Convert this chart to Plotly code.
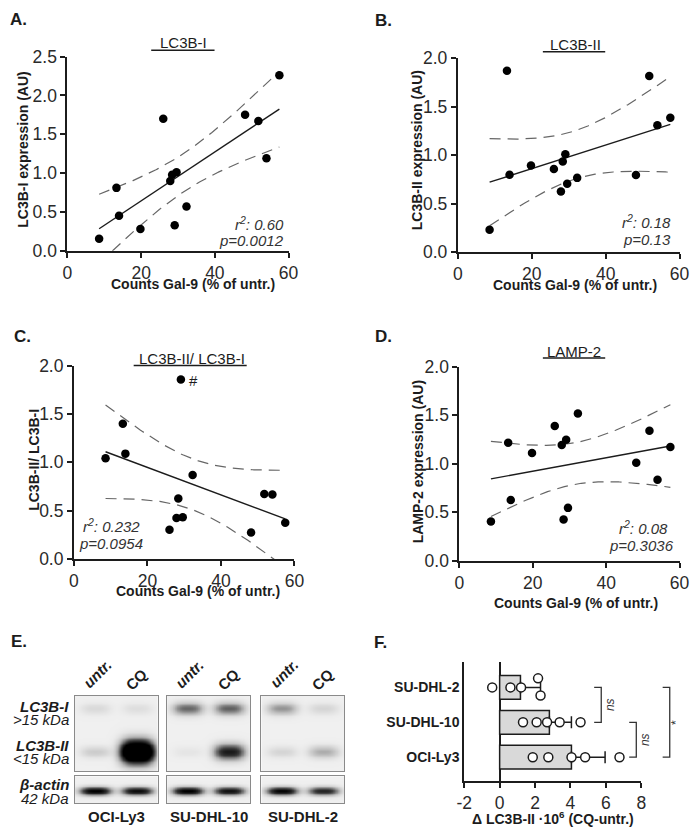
import numpy as np
import plotly.graph_objects as go

W, H = 699, 837
FONT = "Liberation Sans"
INK = "#1c1c1c"

# ---- panels A-D: Gal-9 counts (% of untreated) vs. protein level, one value per sample
gal9_counts = [8.6, 13.3, 14.0, 19.8, 26.0, 27.9, 28.4, 29.1, 29.6, 32.3, 48.2, 51.8, 54.0, 57.5]
lc3b_i_expr = [0.155, 0.81, 0.45, 0.28, 1.70, 0.90, 0.98, 0.33, 1.01, 0.57, 1.75, 1.67, 1.19, 2.26]
lc3b_ii_expr = [0.234, 1.87, 0.80, 0.894, 0.858, 0.626, 0.935, 1.01, 0.707, 0.767, 0.797, 1.816, 1.31, 1.387]
lc3b_ratio = [1.043, 1.40, 1.09, None, 0.304, 0.425, 0.627, 1.857, 0.431, 0.869, 0.274, 0.673, 0.667, 0.375]
lamp2_expr = [0.403, 1.217, 0.625, 1.112, 1.39, 1.193, 0.423, 1.247, 0.544, 1.519, 1.011, 1.341, 0.834, 1.172]

panel_titles = ["LC3B-I", "LC3B-II", "LC3B-II/ LC3B-I", "LAMP-2"]
y_titles = ["LC3B-I expression (AU)", "LC3B-II expression (AU)", "LC3B-II/ LC3B-I", "LAMP-2 expression (AU)"]
x_title = "Counts Gal-9 (% of untr.)"
r2_labels = ["0.60", "0.18", "0.232", "0.08"]
p_labels = ["0.0012", "0.13", "0.0954", "0.3036"]
y_max = [2.5, 2.0, 2.0, 2.0]
x_ticks = [0, 20, 40, 60]

# ---- panel E: western blot band intensities (darkness), lanes = [untr., CQ]
cell_lines = ["OCI-Ly3", "SU-DHL-10", "SU-DHL-2"]
lane_labels = ["untr.", "CQ"]
band_lc3b_i = [[0.10, 0.08], [0.50, 0.52], [0.36, 0.12]]
band_lc3b_ii = [[0.16, 1.80], [0.05, 0.80], [0.12, 0.28]]
band_actin = [[0.95, 0.88], [0.95, 0.85], [0.92, 0.75]]

# ---- panel F: delta LC3B-II x10^6 (CQ - untr.), bottom to top = cell_lines order
delta_lc3b_ii = [[1.87, 2.75, 4.06, 4.83, 6.77],
                 [1.32, 2.09, 2.68, 3.39, 4.57],
                 [-0.42, 0.61, 1.21, 2.17, 2.31]]
comparisons = [("SU-DHL-2", "SU-DHL-10", "ns"),
               ("SU-DHL-10", "OCI-Ly3", "ns"),
               ("SU-DHL-2", "OCI-Ly3", "*")]

# ---------------- geometry (pixels of the 699x837 page) and styling
point_dodge = [[0, 0, 0, 0, 0], [0, 0, 0, 0, 0], [0, 0, 0, 0.26, -0.23]]
bracket_x = [5.74, 7.72, 9.61]
bracket_text_shift = [9, 8, 7]

scatter_boxes = [(61, 288, 47.7, 246.7), (461.7, 689.3, 49.3, 248.3),
                 (67.7, 294, 364.3, 562.5), (463.3, 689.3, 365.7, 564)]
title_pos = [(180, 33.8), (582, 35.4), (189, 357), (581, 349.4)]
underline_pos = [(147, 212, 41.2), (549, 613, 42.8), (129, 245, 364.3), (549, 613, 356.5)]
stat_pos = [("right", 285, 285, 219, 236), ("right", 682.7, 682.7, 216.7, 235),
            ("center", 106, 106, 528.3, 546.7), ("right", 679.3, 686, 530, 548.3)]
ytitle_pos = [(15, 143.5), (420, 143.5), (27, 460.5), (421.7, 462.5)]
xtitle_pos = [(190, 281), (582, 282), (195, 595.5), (583, 608)]
letters = [("A.", 11, 10), ("B.", 385, 11), ("C.", 15, 334), ("D.", 385, 335),
           ("E.", 11, 647), ("F.", 382, 648)]

blot_x = [(68.3, 154), (163.3, 248.3), (260, 345)]
blot_upper_y = (702.3, 780)
blot_lower_y = (785, 812.3)

f_box = (468.3, 650, 668, 790)   # x=-2..8, categories
f_wide_right = 695.4              # x=10.5 on the same scale

T_CRIT = {12: 2.179, 11: 2.201}


def px_x(v):
    return v / W


def px_y(v):
    return 1 - v / H


def regression(x, y, n_pts=150):
    x = np.asarray(x, float)
    y = np.asarray(y, float)
    ok = ~np.isnan(y)
    x, y = x[ok], y[ok]
    n = len(x)
    slope, icpt = np.polyfit(x, y, 1)
    s = np.sqrt(np.sum((y - (icpt + slope * x)) ** 2) / (n - 2))
    xs = np.linspace(x.min(), x.max(), n_pts)
    fit = icpt + slope * xs
    half = T_CRIT[n - 2] * s * np.sqrt(1 / n + (xs - x.mean()) ** 2 / np.sum((x - x.mean()) ** 2))
    return xs, fit, fit - half, fit + half


def blot_image(gx, gy, bands):
    X, Y = np.meshgrid(gx, gy)
    z = np.full_like(X, 0.07)
    for x0, y0, amp, sy in bands:
        hw = 0.36 + 0.02 * amp
        z += amp * np.exp(-np.abs((X - x0) / hw) ** 3) * np.exp(-((Y - y0) / sy) ** 2)
    return z


fig = go.Figure()
layout = dict(width=W, height=H, margin=dict(l=0, r=0, t=0, b=0),
              paper_bgcolor="white", plot_bgcolor="rgba(0,0,0,0)", showlegend=False,
              font=dict(family=FONT, color=INK))
annotations = []
shapes = []

axis_common = dict(showgrid=False, zeroline=False, showline=True, linecolor=INK, linewidth=2,
                   ticks="outside", ticklen=5, tickwidth=1.5, tickcolor=INK,
                   tickfont=dict(size=17.5, color="#2a2a2a"), fixedrange=True)

# ---------------- A-D scatter panels
series = [lc3b_i_expr, lc3b_ii_expr, lc3b_ratio, lamp2_expr]
for i, yvals in enumerate(series):
    sfx = "" if i == 0 else str(i + 1)
    xa, ya = "x" + sfx, "y" + sfx
    left, right, top, bottom = scatter_boxes[i]
    xs, fit, lo, hi = regression(gal9_counts, yvals)
    for band in (lo, hi):
        fig.add_trace(go.Scatter(x=xs, y=band, mode="lines", xaxis=xa, yaxis=ya,
                                 line=dict(color="#666666", width=1.2, dash="11px,7px"),
                                 hoverinfo="skip"))
    fig.add_trace(go.Scatter(x=xs, y=fit, mode="lines", xaxis=xa, yaxis=ya,
                             line=dict(color=INK, width=1.4), hoverinfo="skip"))
    fig.add_trace(go.Scatter(x=gal9_counts, y=yvals, mode="markers", xaxis=xa, yaxis=ya,
                             marker=dict(size=8.5, color="black")))
    layout["xaxis" + sfx] = dict(axis_common, domain=[px_x(left), px_x(right)], range=[0, 60],
                                 tickvals=x_ticks, anchor=ya)
    layout["yaxis" + sfx] = dict(axis_common, domain=[px_y(bottom), px_y(top)], range=[0, y_max[i]],
                                 dtick=0.5, tickformat=".1f", anchor=xa)

    tx, ty = title_pos[i]
    annotations.append(dict(text=panel_titles[i], x=px_x(tx), y=px_y(ty), xref="paper", yref="paper",
                            showarrow=False, xanchor="center", yanchor="middle",
                            font=dict(size=15, color=INK)))
    ux0, ux1, uy = underline_pos[i]
    shapes.append(dict(type="line", xref="paper", yref="paper", x0=px_x(ux0), x1=px_x(ux1),
                       y0=px_y(uy), y1=px_y(uy), line=dict(color=INK, width=1.5)))

    anchor, rx, px_, ry, py = stat_pos[i]
    annotations.append(dict(text="<i>r<sup>2</sup>: %s</i>" % r2_labels[i], x=px_x(rx), y=px_y(ry),
                            xref="paper", yref="paper", showarrow=False, xanchor=anchor,
                            yanchor="middle", font=dict(size=15, color="#333333")))
    annotations.append(dict(text="<i>p=%s</i>" % p_labels[i], x=px_x(px_), y=px_y(py),
                            xref="paper", yref="paper", showarrow=False, xanchor=anchor,
                            yanchor="middle", font=dict(size=15, color="#333333")))

    yx, yy = ytitle_pos[i]
    annotations.append(dict(text="<b>%s</b>" % y_titles[i], x=px_x(yx), y=px_y(yy), xref="paper",
                            yref="paper", showarrow=False, textangle=-90, xanchor="center",
                            yanchor="middle", font=dict(size=14, color=INK)))
    xx, xy = xtitle_pos[i]
    annotations.append(dict(text="<b>%s</b>" % x_title, x=px_x(xx), y=px_y(xy), xref="paper",
                            yref="paper", showarrow=False, xanchor="center", yanchor="middle",
                            font=dict(size=14, color=INK)))

# outlier mark in C
outlier = int(np.nanargmax(np.asarray(lc3b_ratio, float)))
annotations.append(dict(text="#", x=gal9_counts[outlier], y=lc3b_ratio[outlier], xref="x3", yref="y3",
                        showarrow=False, xshift=13, yshift=-1, font=dict(size=15, color=INK)))

# ---------------- F: horizontal bars
cat_pos = np.arange(len(cell_lines))
means = [float(np.mean(v)) for v in delta_lc3b_ii]
sds = [float(np.std(v, ddof=1)) for v in delta_lc3b_ii]
fig.add_trace(go.Bar(x=means, y=cat_pos, orientation="h", width=0.68, xaxis="x5", yaxis="y5",
                     marker=dict(color="#d9d9d9", line=dict(color=INK, width=1.5)),
                     error_x=dict(type="data", array=sds, arrayminus=[0] * len(sds), symmetric=False,
                                  color=INK, thickness=1.5, width=6)))
px_pts, py_pts = [], []
for k, vals in enumerate(delta_lc3b_ii):
    for v, d in zip(vals, point_dodge[k]):
        px_pts.append(v)
        py_pts.append(cat_pos[k] + d)
fig.add_trace(go.Scatter(x=px_pts, y=py_pts, mode="markers", xaxis="x5", yaxis="y5",
                         marker=dict(symbol="circle", size=9, color="white",
                                     line=dict(color=INK, width=1.5))))

fl, fr, ft, fb = f_box
layout["xaxis5"] = dict(axis_common, domain=[px_x(fl), px_x(fr)], range=[-2, 8],
                        tickvals=[-2, 0, 2, 4, 6, 8], ticktext=["-2", "0", "2", "4", "6", "8"],
                        zeroline=True, zerolinecolor=INK, zerolinewidth=2, anchor="y5")
layout["yaxis5"] = dict(axis_common, domain=[px_y(fb), px_y(ft)], range=[-0.685, 2.727],
                        tickvals=list(cat_pos), ticktext=cell_lines, ticks="",
                        tickfont=dict(size=14, color=INK, weight="bold"), anchor="x5")
# wider hidden axis on the same scale so the brackets can run past x=8
layout["xaxis6"] = dict(domain=[px_x(fl), px_x(f_wide_right)], range=[-2, 10.5], visible=False,
                        fixedrange=True, anchor="y5")

bx_all, by_all = [], []
arm = 0.4
for (top_name, bot_name, label), bx, shift in zip(comparisons, bracket_x, bracket_text_shift):
    y_top = cell_lines.index(top_name)
    y_bot = cell_lines.index(bot_name)
    bx_all += [bx - arm, bx, bx, bx - arm, None]
    by_all += [y_top, y_top, y_bot, y_bot, None]
    annotations.append(dict(text="<i>%s</i>" % label if label == "ns" else label,
                            x=bx, y=(y_top + y_bot) / 2, xref="x6", yref="y5", showarrow=False,
                            textangle=-90, xanchor="center", yanchor="middle", xshift=shift,
                            font=dict(size=12, color="#333333")))
fig.add_trace(go.Scatter(x=bx_all, y=by_all, mode="lines", xaxis="x6", yaxis="y5",
                         line=dict(color="#333333", width=1.3), hoverinfo="skip"))

annotations.append(dict(text="<b>\u0394 LC3B-II \u00b710<sup>6</sup> (CQ-untr.)</b>", x=3, xref="x5",
                        y=px_y(828), yref="paper", showarrow=False, xanchor="center",
                        yanchor="middle", font=dict(size=14, color=INK)))

# ---------------- E: western blots drawn as heatmaps
row_y_upper = [0.83, 0.26]   # LC3B-I, LC3B-II band heights in the upper box
row_y_actin = 0.45
gx = np.linspace(-0.5, 1.5, 120)
gy_up = np.linspace(0, 1, 90)
gy_lo = np.linspace(0, 1, 36)
blot_scale = [[0, "#ffffff"], [0.3, "#bdbdbd"], [0.7, "#3a3a3a"], [1, "#000000"]]
blot_axis = dict(showline=True, mirror=True, linecolor="#8a8a8a", linewidth=1, ticks="",
                 showticklabels=False, showgrid=False, zeroline=False, fixedrange=True)

for k, name in enumerate(cell_lines):
    nu, nl = 7 + 2 * k, 8 + 2 * k
    bands_up = []
    for lane in range(2):
        bands_up.append((lane, row_y_upper[0], band_lc3b_i[k][lane], 0.07 + 0.02 * band_lc3b_i[k][lane]))
        bands_up.append((lane, row_y_upper[1], band_lc3b_ii[k][lane], 0.065 + 0.045 * band_lc3b_ii[k][lane]))
    bands_lo = [(lane, row_y_actin, band_actin[k][lane], 0.15) for lane in range(2)]
    for n, gy, bands in ((nu, gy_up, bands_up), (nl, gy_lo, bands_lo)):
        fig.add_trace(go.Heatmap(z=blot_image(gx, gy, bands), x=gx, y=gy, xaxis="x%d" % n,
                                 yaxis="y%d" % n, colorscale=blot_scale, zmin=0, zmax=1,
                                 showscale=False, zsmooth="best", hoverinfo="skip"))
    bx0, bx1 = blot_x[k]
    layout["xaxis%d" % nu] = dict(blot_axis, domain=[px_x(bx0), px_x(bx1)], range=[-0.5, 1.5],
                                  anchor="y%d" % nu)
    layout["yaxis%d" % nu] = dict(blot_axis, domain=[px_y(blot_upper_y[1]), px_y(blot_upper_y[0])],
                                  range=[0, 1], anchor="x%d" % nu)
    layout["xaxis%d" % nl] = dict(blot_axis, domain=[px_x(bx0), px_x(bx1)], range=[-0.5, 1.5],
                                  anchor="y%d" % nl)
    layout["yaxis%d" % nl] = dict(blot_axis, domain=[px_y(blot_lower_y[1]), px_y(blot_lower_y[0])],
                                  range=[0, 1], anchor="x%d" % nl)
    for lane, lab in enumerate(lane_labels):
        annotations.append(dict(text="<b><i>%s</i></b>" % lab if lab == "untr." else "<b>%s</b>" % lab,
                                x=lane, y=1, xref="x%d" % nu, yref="y%d domain" % nu,
                                showarrow=False, textangle=-45, xanchor="center", yanchor="middle",
                                xshift=2 if lane == 0 else -1, yshift=22 if lane == 0 else 16,
                                font=dict(size=15, color=INK)))
    annotations.append(dict(text="<b>%s</b>" % name, x=0.5, y=0, xref="x%d domain" % nl,
                            yref="y%d domain" % nl, showarrow=False, xanchor="center", yanchor="middle",
                            yshift=-14, font=dict(size=15, color=INK)))

row_labels = [("<b><i>LC3B-I</i></b>", "y7", row_y_upper[0], 2),
              ("<i>&gt;15 kDa</i>", "y7", row_y_upper[0], -11),
              ("<b><i>LC3B-II</i></b>", "y7", row_y_upper[1], 6),
              ("<i>&lt;15 kDa</i>", "y7", row_y_upper[1], -7),
              ("<b><i>\u03b2-actin</i></b>", "y8", row_y_actin, 6),
              ("<i>42 kDa</i>", "y8", row_y_actin, -8)]
for text, yref, yv, shift in row_labels:
    annotations.append(dict(text=text, x=0, xref="x7 domain", y=yv, yref=yref, showarrow=False,
                            xanchor="right", yanchor="middle", xshift=-4, yshift=shift,
                            font=dict(size=15, color=INK)))

for text, lx, ly in letters:
    annotations.append(dict(text="<b>%s</b>" % text, x=px_x(lx), y=px_y(ly), xref="paper",
                            yref="paper", showarrow=False, xanchor="center", yanchor="middle",
                            font=dict(size=17, color=INK)))

layout["annotations"] = annotations
layout["shapes"] = shapes
fig.update_layout(**layout)
fig.write_html("out.html", config={"displayModeBar": False},
               post_script="document.body.style.margin='0px';"
                           "document.documentElement.style.overflow='hidden';")
